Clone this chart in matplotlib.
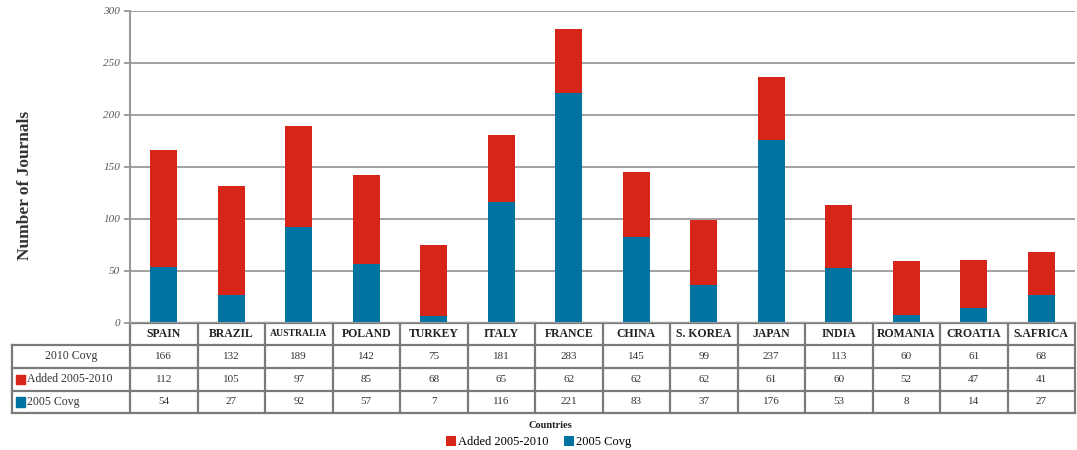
import numpy as np
import matplotlib
matplotlib.use('Agg')
import matplotlib.pyplot as plt
import matplotlib.transforms as mtransforms
from matplotlib.patches import Rectangle

plt.rcParams['font.family'] = ['Liberation Serif', 'DejaVu Serif']

#data
countries = ['SPAIN', 'BRAZIL', 'AUSTRALIA', 'POLAND', 'TURKEY', 'ITALY', 'FRANCE',
             'CHINA', 'S. KOREA', 'JAPAN', 'INDIA', 'ROMANIA', 'CROATIA', 'S.AFRICA']
covg_2010 = [166, 132, 189, 142, 75, 181, 283, 145, 99, 237, 113, 60, 61, 68]
added = [112, 105, 97, 85, 68, 65, 62, 62, 62, 61, 60, 52, 47, 41]
covg_2005 = [54, 27, 92, 57, 7, 116, 221, 83, 37, 176, 53, 8, 14, 27]
yticks = [0, 50, 100, 150, 200, 250, 300]

red = '#D7251A'
blue = '#0073A1'
grid_c = '#9A9A9A'

fig = plt.figure(figsize=(10.77, 4.5), dpi=100)
ax = fig.add_axes([130 / 1077, 1 - 323 / 450, 945 / 1077, 312 / 450])

x = np.arange(len(countries))
ax.bar(x, covg_2005, width=0.4, color=blue, zorder=3, label='2005 Covg')
ax.bar(x, added, width=0.4, bottom=covg_2005, color=red, zorder=3, label='Added 2005-2010')

ax.set_xlim(-0.5, len(countries) - 0.5)
ax.set_ylim(0, 300)
ax.set_yticks(yticks)
ax.set_yticklabels([str(t) for t in yticks], fontstyle='italic', fontsize=8, color='#555555')
ax.set_xticks([])
ax.yaxis.grid(True, color=grid_c, lw=1.3, zorder=0)
for s in ['top', 'right', 'bottom']:
    ax.spines[s].set_visible(False)
ax.spines['left'].set_color(grid_c)
ax.spines['left'].set_linewidth(1.5)
ax.tick_params(axis='y', length=4, color=grid_c, width=1.3, pad=3)
ax.axhline(0, color=grid_c, lw=1.5, zorder=4)

#table under the bars, columns follow the bar positions
tr = mtransforms.blended_transform_factory(ax.transData, ax.transAxes)
rows_y = [0, -22 / 312, -45 / 312, -68 / 312, -90 / 312]
lab_left = -0.5 - 118 / 67.5
line_kw = dict(color='#7A7A7A', lw=1.6, transform=tr, clip_on=False)

#horizontal lines
ax.plot([-0.5, len(countries) - 0.5], [rows_y[0]] * 2, **line_kw)
for yy in rows_y[1:]:
    ax.plot([lab_left, len(countries) - 0.5], [yy, yy], **line_kw)
#vertical lines
for i in range(len(countries) + 1):
    ax.plot([i - 0.5, i - 0.5], [rows_y[0], rows_y[-1]], **line_kw)
ax.plot([lab_left, lab_left], [rows_y[1], rows_y[-1]], **line_kw)

mid = lambda k: (rows_y[k] + rows_y[k + 1]) / 2
for i, c in enumerate(countries):
    fs = 7 if c == 'AUSTRALIA' else 8.5
    ax.text(i, mid(0), c, transform=tr, ha='center', va='center',
            fontsize=fs, fontweight='bold', color='#222222')
    for k, vals in enumerate([covg_2010, added, covg_2005]):
        ax.text(i, mid(k + 1), str(vals[i]), transform=tr, ha='center', va='center',
                fontsize=8, color='#333333')

ax.text(-1.37, mid(1), '2010 Covg', transform=tr, ha='center', va='center',
        fontsize=8.5, color='#333333')
ax.text(lab_left + 0.22, mid(2), 'Added 2005-2010', transform=tr, ha='left', va='center',
        fontsize=8.5, color='#333333')
ax.text(lab_left + 0.22, mid(3), '2005 Covg', transform=tr, ha='left', va='center',
        fontsize=8.5, color='#333333')
for k, col in [(2, red), (3, blue)]:
    ax.add_patch(Rectangle((lab_left + 0.06, mid(k) - 0.016), 0.13, 0.032, transform=tr,
                           color=col, clip_on=False))

fig.text(25 / 1077, 1 - 185 / 450, 'Number of Journals', rotation=90, ha='center', va='center',
         fontsize=12.5, fontweight='bold', color='#333333')
fig.text(550 / 1077, 1 - 425 / 450, 'Countries', ha='center', va='center',
         fontsize=7.5, fontweight='bold', color='#222222')

handles, labels = ax.get_legend_handles_labels()
fig.legend(handles[::-1], labels[::-1], loc='center', bbox_to_anchor=(0.5, 1 - 442 / 450),
           ncol=2, frameon=False, fontsize=9, handlelength=0.8, handleheight=0.8,
           handletextpad=0.2, columnspacing=1.2, borderpad=0.1)

fig.savefig('out.png', dpi=100)
